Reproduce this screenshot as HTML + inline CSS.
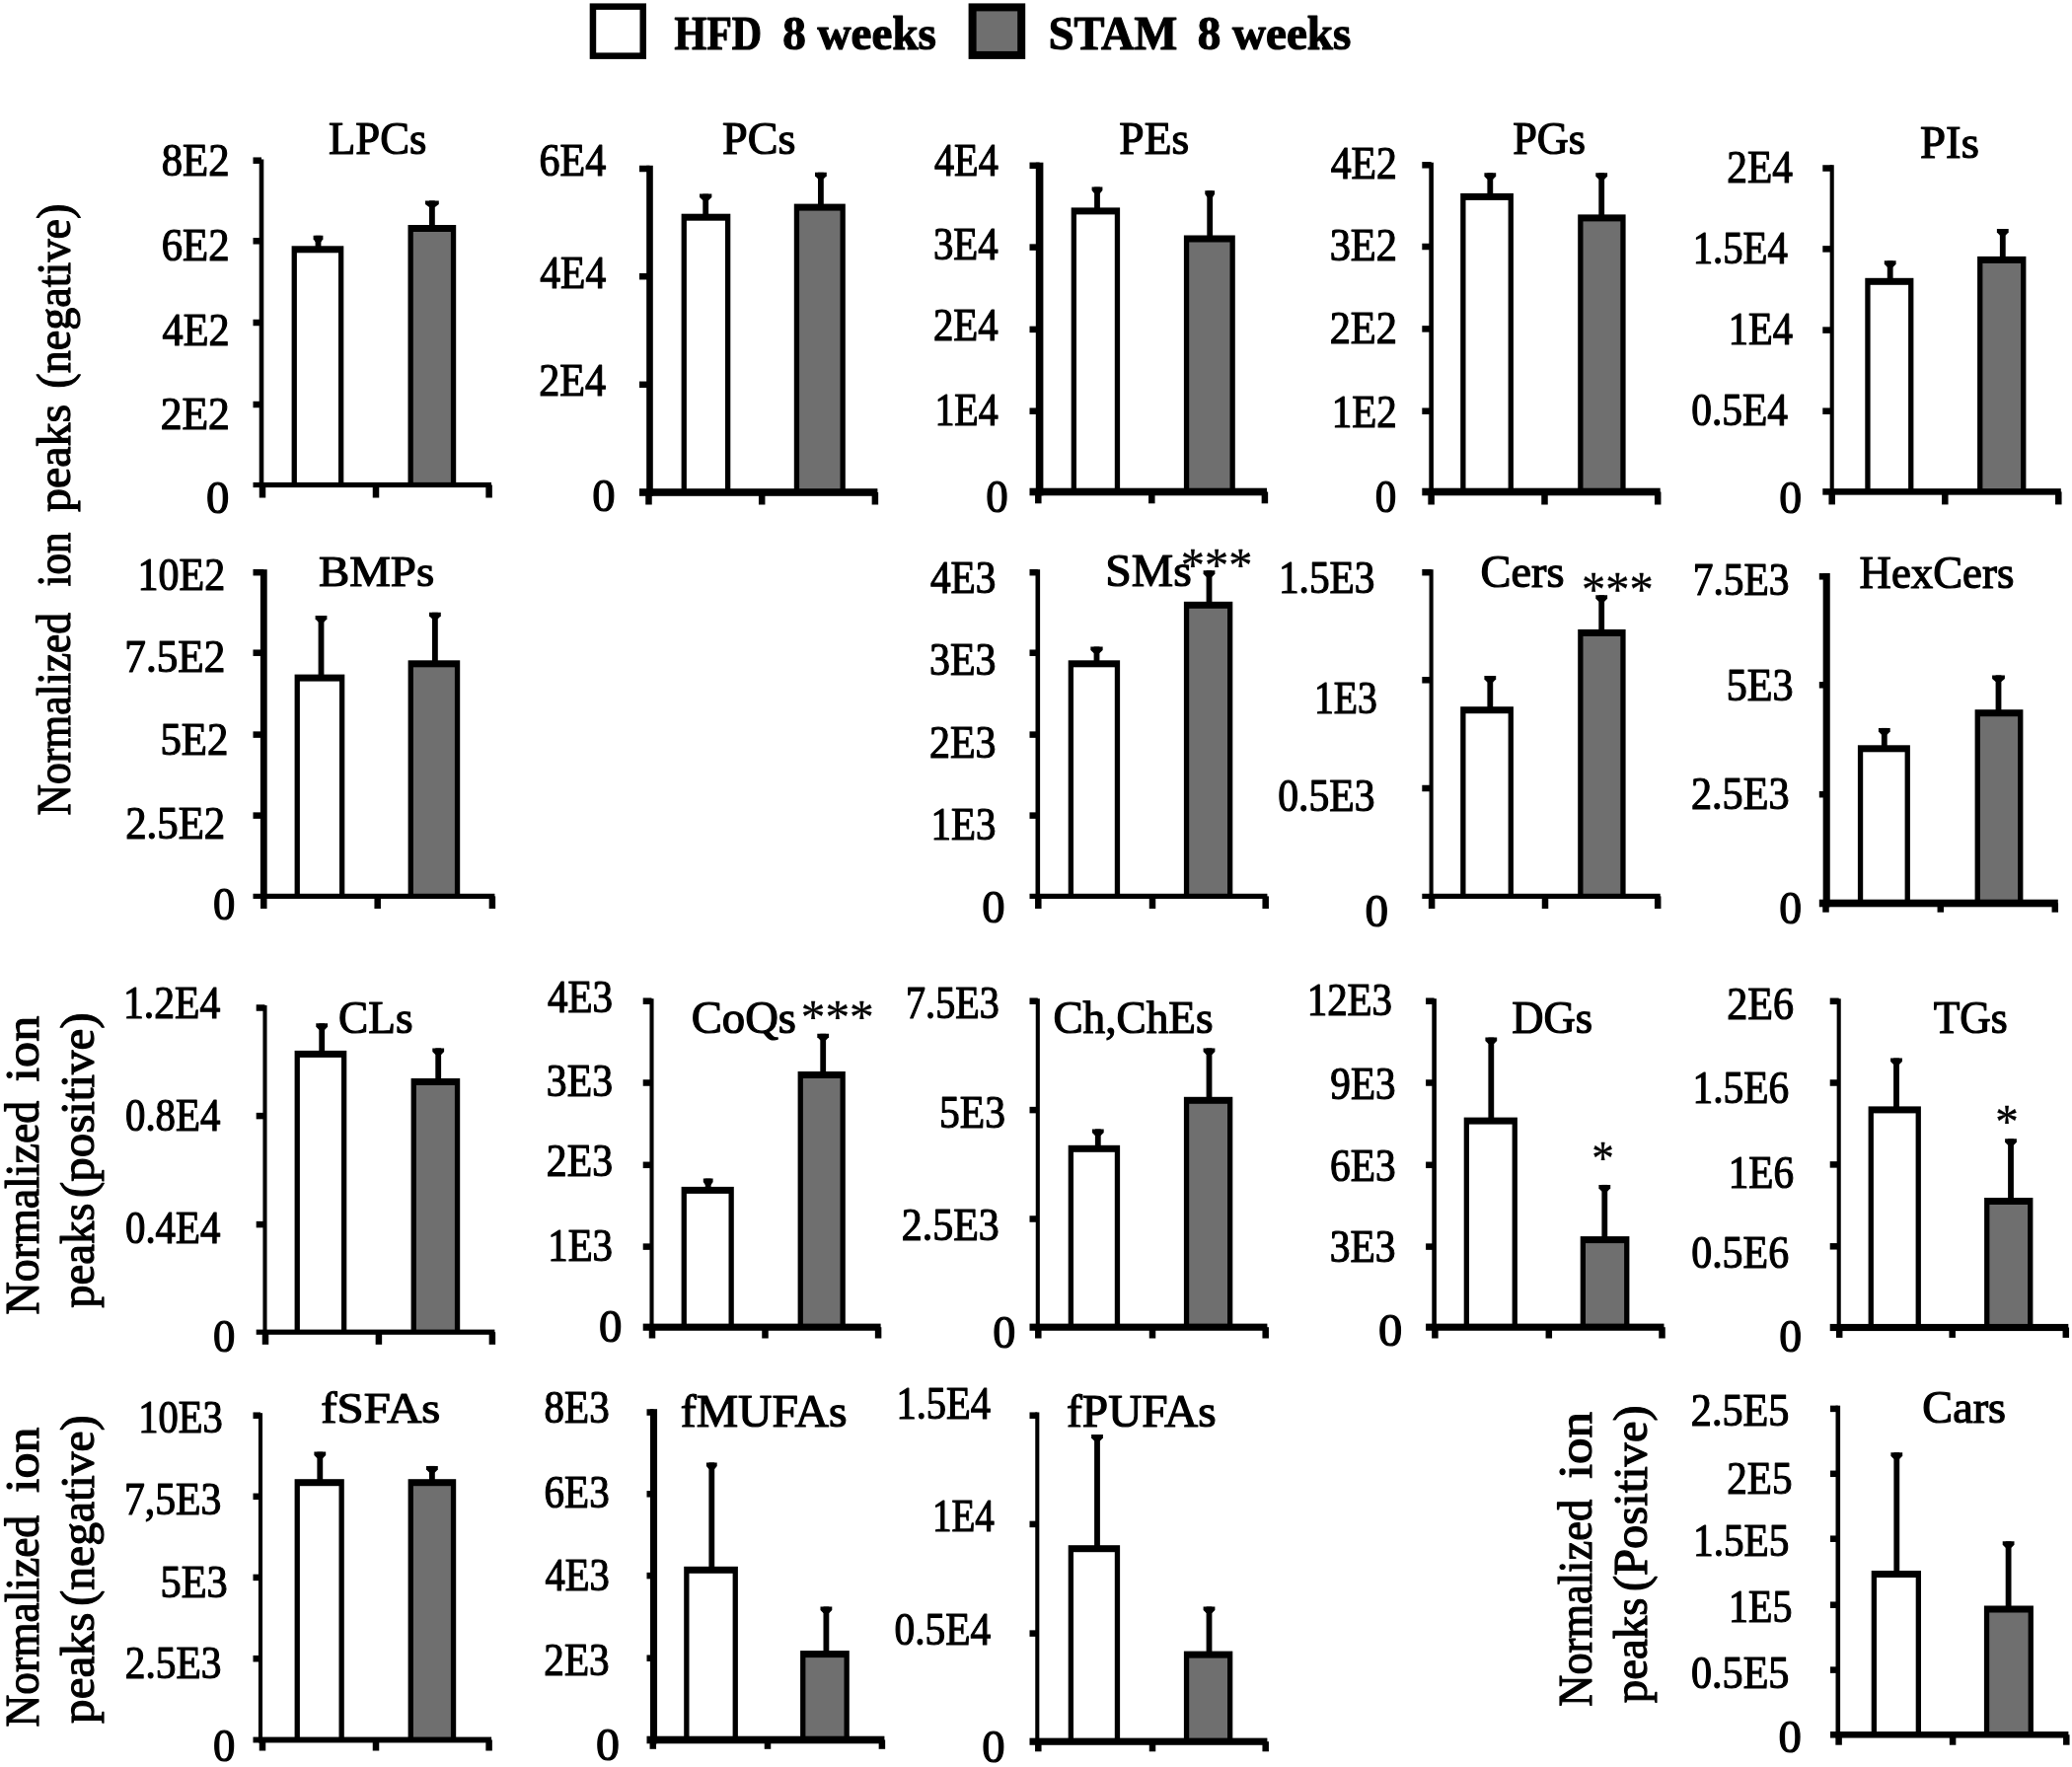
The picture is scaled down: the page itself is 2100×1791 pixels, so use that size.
<!DOCTYPE html>
<html><head><meta charset="utf-8"><title>Lipid classes HFD vs STAM 8 weeks</title>
<style>
html,body{margin:0;padding:0;background:#fff}
svg{display:block;filter:blur(0.7px)}
text{font-family:"Liberation Serif",serif;fill:#000;stroke:#000;stroke-width:1.2px;stroke-linejoin:round}
text.st{stroke-width:0.35px}
</style></head><body>
<svg width="2100" height="1791" viewBox="0 0 2100 1791">
<rect width="2100" height="1791" fill="#fff"/>
<rect x="295.60" y="249.30" width="52.70" height="242.20" fill="#000"/>
<rect x="300.90" y="256.30" width="42.10" height="235.20" fill="#fff"/>
<rect x="413.50" y="228.00" width="48.70" height="263.50" fill="#000"/>
<rect x="418.80" y="235.00" width="38.10" height="256.50" fill="#6f6f6f"/>
<rect x="319.60" y="238.80" width="5.80" height="11.50" fill="#000"/>
<path d="M317.60,238.80h9.80v3.5l-2.00,3h-5.80l-2.00,-3z"/>
<rect x="435.00" y="203.40" width="5.80" height="25.60" fill="#000"/>
<path d="M431.00,203.40h13.80v3.5l-4.00,3h-5.80l-4.00,-3z"/>
<rect x="262.70" y="161.50" width="4.60" height="332.60" fill="#000"/>
<rect x="256.50" y="488.90" width="241.50" height="5.20" fill="#000"/>
<rect x="256.50" y="159.45" width="8.50" height="6.50" fill="#000"/>
<rect x="256.50" y="241.05" width="8.50" height="6.50" fill="#000"/>
<rect x="256.50" y="323.75" width="8.50" height="6.50" fill="#000"/>
<rect x="256.50" y="406.75" width="8.50" height="6.50" fill="#000"/>
<rect x="262.75" y="491.50" width="6.50" height="13.00" fill="#000"/>
<rect x="377.75" y="491.50" width="6.50" height="13.00" fill="#000"/>
<rect x="492.35" y="491.50" width="6.50" height="13.00" fill="#000"/>
<text transform="translate(333.06,156.30) scale(0.9415,1.0000)" font-size="47.5">LPCs</text>
<text transform="translate(163.69,178.40) scale(0.9339,1.0000)" font-size="45.8">8E2</text>
<text transform="translate(163.69,264.00) scale(0.9339,1.0000)" font-size="45.8">6E2</text>
<text transform="translate(164.56,349.50) scale(0.9217,1.0000)" font-size="45.8">4E2</text>
<text transform="translate(162.64,435.00) scale(0.9529,1.0000)" font-size="45.8">2E2</text>
<text transform="translate(209.03,520.40) scale(1.0189,1.0000)" font-size="45.8">0</text>
<rect x="690.60" y="216.70" width="49.70" height="282.30" fill="#000"/>
<rect x="695.90" y="223.70" width="39.10" height="275.30" fill="#fff"/>
<rect x="804.80" y="206.60" width="52.00" height="292.40" fill="#000"/>
<rect x="810.10" y="213.60" width="41.40" height="285.40" fill="#6f6f6f"/>
<rect x="712.30" y="196.60" width="5.80" height="21.10" fill="#000"/>
<path d="M709.05,196.60h12.30v3.5l-3.25,3h-5.80l-3.25,-3z"/>
<rect x="829.00" y="174.80" width="5.80" height="32.80" fill="#000"/>
<path d="M826.00,174.80h11.80v3.5l-3.00,3h-5.80l-3.00,-3z"/>
<rect x="655.20" y="167.80" width="6.60" height="335.00" fill="#000"/>
<rect x="648.00" y="495.20" width="241.40" height="7.60" fill="#000"/>
<rect x="648.00" y="167.75" width="10.50" height="6.50" fill="#000"/>
<rect x="648.00" y="276.95" width="10.50" height="6.50" fill="#000"/>
<rect x="648.00" y="386.55" width="10.50" height="6.50" fill="#000"/>
<rect x="654.25" y="499.00" width="6.50" height="12.50" fill="#000"/>
<rect x="768.95" y="499.00" width="6.50" height="12.50" fill="#000"/>
<rect x="883.65" y="499.00" width="6.50" height="12.50" fill="#000"/>
<text transform="translate(732.01,156.30) scale(0.9934,1.0000)" font-size="46.5">PCs</text>
<text transform="translate(546.52,178.00) scale(0.9169,1.0000)" font-size="45.8">6E4</text>
<text transform="translate(547.37,291.90) scale(0.9052,1.0000)" font-size="45.8">4E4</text>
<text transform="translate(546.30,401.30) scale(0.9198,1.0000)" font-size="45.8">2E4</text>
<text transform="translate(600.33,517.70) scale(1.0189,1.0000)" font-size="45.8">0</text>
<rect x="1085.70" y="210.40" width="49.40" height="288.10" fill="#000"/>
<rect x="1091.00" y="217.40" width="38.80" height="281.10" fill="#fff"/>
<rect x="1199.90" y="238.50" width="51.90" height="260.00" fill="#000"/>
<rect x="1205.20" y="245.50" width="41.30" height="253.00" fill="#6f6f6f"/>
<rect x="1109.10" y="189.60" width="5.80" height="21.80" fill="#000"/>
<path d="M1106.60,189.60h10.80v3.5l-2.50,3h-5.80l-2.50,-3z"/>
<rect x="1223.30" y="193.30" width="5.80" height="46.20" fill="#000"/>
<path d="M1221.30,193.30h9.80v3.5l-2.00,3h-5.80l-2.00,-3z"/>
<rect x="1049.80" y="164.70" width="7.60" height="337.60" fill="#000"/>
<rect x="1043.50" y="494.70" width="240.50" height="7.60" fill="#000"/>
<rect x="1043.50" y="164.55" width="10.10" height="6.50" fill="#000"/>
<rect x="1043.50" y="247.35" width="10.10" height="6.50" fill="#000"/>
<rect x="1043.50" y="330.65" width="10.10" height="6.50" fill="#000"/>
<rect x="1043.50" y="413.45" width="10.10" height="6.50" fill="#000"/>
<rect x="1049.05" y="498.50" width="6.50" height="11.80" fill="#000"/>
<rect x="1164.05" y="498.50" width="6.50" height="11.80" fill="#000"/>
<rect x="1278.65" y="498.50" width="6.50" height="11.80" fill="#000"/>
<text transform="translate(1134.33,156.30) scale(0.9786,1.0000)" font-size="46.5">PEs</text>
<text transform="translate(947.00,178.00) scale(0.8775,1.0000)" font-size="45.8">4E4</text>
<text transform="translate(945.96,263.30) scale(0.8917,1.0000)" font-size="45.8">3E4</text>
<text transform="translate(945.96,345.40) scale(0.8917,1.0000)" font-size="45.8">2E4</text>
<text transform="translate(947.41,430.70) scale(0.8719,1.0000)" font-size="45.8">1E4</text>
<text transform="translate(999.20,519.30) scale(0.9825,1.0000)" font-size="45.8">0</text>
<rect x="1480.20" y="195.90" width="53.70" height="302.60" fill="#000"/>
<rect x="1485.50" y="202.90" width="43.10" height="295.60" fill="#fff"/>
<rect x="1599.20" y="217.40" width="48.40" height="281.10" fill="#000"/>
<rect x="1604.50" y="224.40" width="37.80" height="274.10" fill="#6f6f6f"/>
<rect x="1507.40" y="175.30" width="5.80" height="21.60" fill="#000"/>
<path d="M1504.40,175.30h11.80v3.5l-3.00,3h-5.80l-3.00,-3z"/>
<rect x="1620.30" y="175.30" width="5.80" height="43.10" fill="#000"/>
<path d="M1617.30,175.30h11.80v3.5l-3.00,3h-5.80l-3.00,-3z"/>
<rect x="1448.30" y="164.70" width="4.60" height="337.60" fill="#000"/>
<rect x="1441.30" y="494.70" width="241.40" height="7.60" fill="#000"/>
<rect x="1441.30" y="164.05" width="9.30" height="6.50" fill="#000"/>
<rect x="1441.30" y="246.75" width="9.30" height="6.50" fill="#000"/>
<rect x="1441.30" y="330.15" width="9.30" height="6.50" fill="#000"/>
<rect x="1441.30" y="413.45" width="9.30" height="6.50" fill="#000"/>
<rect x="1447.35" y="498.50" width="6.50" height="13.00" fill="#000"/>
<rect x="1562.25" y="498.50" width="6.50" height="13.00" fill="#000"/>
<rect x="1676.95" y="498.50" width="6.50" height="13.00" fill="#000"/>
<text transform="translate(1533.17,156.30) scale(0.9527,1.0000)" font-size="46.5">PGs</text>
<text transform="translate(1348.77,181.00) scale(0.9103,1.0000)" font-size="45.8">4E2</text>
<text transform="translate(1347.69,263.80) scale(0.9254,1.0000)" font-size="45.8">3E2</text>
<text transform="translate(1347.69,347.90) scale(0.9254,1.0000)" font-size="45.8">2E2</text>
<text transform="translate(1349.81,433.20) scale(0.8956,1.0000)" font-size="45.8">1E2</text>
<text transform="translate(1393.78,519.30) scale(0.9409,1.0000)" font-size="45.8">0</text>
<rect x="1890.30" y="281.80" width="49.10" height="216.60" fill="#000"/>
<rect x="1895.60" y="288.80" width="38.50" height="209.60" fill="#fff"/>
<rect x="2004.10" y="259.90" width="49.30" height="238.50" fill="#000"/>
<rect x="2009.40" y="266.90" width="38.70" height="231.50" fill="#6f6f6f"/>
<rect x="1912.80" y="264.30" width="5.80" height="18.50" fill="#000"/>
<path d="M1909.80,264.30h11.80v3.5l-3.00,3h-5.80l-3.00,-3z"/>
<rect x="2026.90" y="232.00" width="5.80" height="28.90" fill="#000"/>
<path d="M2023.90,232.00h11.80v3.5l-3.00,3h-5.80l-3.00,-3z"/>
<rect x="1854.65" y="167.20" width="4.10" height="334.45" fill="#000"/>
<rect x="1847.30" y="495.15" width="241.50" height="6.50" fill="#000"/>
<rect x="1847.30" y="167.25" width="9.40" height="6.50" fill="#000"/>
<rect x="1847.30" y="249.15" width="9.40" height="6.50" fill="#000"/>
<rect x="1847.30" y="331.35" width="9.40" height="6.50" fill="#000"/>
<rect x="1847.30" y="413.45" width="9.40" height="6.50" fill="#000"/>
<rect x="1853.45" y="498.40" width="6.50" height="13.00" fill="#000"/>
<rect x="1968.05" y="498.40" width="6.50" height="13.00" fill="#000"/>
<rect x="2083.05" y="498.40" width="6.50" height="13.00" fill="#000"/>
<text transform="translate(1946.10,160.40) scale(1.0054,1.0000)" font-size="46.5">PIs</text>
<text transform="translate(1750.34,185.40) scale(0.9029,1.0000)" font-size="45.8">2E4</text>
<text transform="translate(1715.63,267.00) scale(0.8908,1.0000)" font-size="45.8">1.5E4</text>
<text transform="translate(1751.76,349.20) scale(0.8835,1.0000)" font-size="45.8">1E4</text>
<text transform="translate(1714.24,430.60) scale(0.9037,1.0000)" font-size="45.8">0.5E4</text>
<text transform="translate(1803.17,519.50) scale(0.9981,1.0000)" font-size="45.8">0</text>
<rect x="298.60" y="683.60" width="50.70" height="224.80" fill="#000"/>
<rect x="303.90" y="690.60" width="40.10" height="217.80" fill="#fff"/>
<rect x="413.60" y="669.30" width="52.60" height="239.10" fill="#000"/>
<rect x="418.90" y="676.30" width="42.00" height="232.10" fill="#6f6f6f"/>
<rect x="322.60" y="624.10" width="5.80" height="60.50" fill="#000"/>
<path d="M319.60,624.10h11.80v3.5l-3.00,3h-5.80l-3.00,-3z"/>
<rect x="438.00" y="620.80" width="5.80" height="49.50" fill="#000"/>
<path d="M435.00,620.80h11.80v3.5l-3.00,3h-5.80l-3.00,-3z"/>
<rect x="263.90" y="577.20" width="6.80" height="333.80" fill="#000"/>
<rect x="256.50" y="905.80" width="244.90" height="5.20" fill="#000"/>
<rect x="256.50" y="576.95" width="10.80" height="6.50" fill="#000"/>
<rect x="256.50" y="658.45" width="10.80" height="6.50" fill="#000"/>
<rect x="256.50" y="741.35" width="10.80" height="6.50" fill="#000"/>
<rect x="256.50" y="823.35" width="10.80" height="6.50" fill="#000"/>
<rect x="264.05" y="908.40" width="6.50" height="12.60" fill="#000"/>
<rect x="379.45" y="908.40" width="6.50" height="12.60" fill="#000"/>
<rect x="495.65" y="908.40" width="6.50" height="12.60" fill="#000"/>
<text transform="translate(322.89,593.80) scale(1.0516,1.0000)" font-size="44.6">BMPs</text>
<text transform="translate(139.53,598.00) scale(0.9177,1.0000)" font-size="45.8">10E2</text>
<text transform="translate(126.29,681.30) scale(0.9435,1.0000)" font-size="45.8">7.5E2</text>
<text transform="translate(162.43,764.60) scale(0.9347,1.0000)" font-size="45.8">5E2</text>
<text transform="translate(127.17,849.90) scale(0.9352,1.0000)" font-size="45.8">2.5E2</text>
<text transform="translate(215.91,931.70) scale(0.9773,1.0000)" font-size="45.8">0</text>
<rect x="1082.70" y="669.30" width="52.40" height="239.10" fill="#000"/>
<rect x="1088.00" y="676.30" width="41.80" height="232.10" fill="#fff"/>
<rect x="1199.90" y="609.80" width="49.40" height="298.60" fill="#000"/>
<rect x="1205.20" y="616.80" width="38.80" height="291.60" fill="#6f6f6f"/>
<rect x="1108.60" y="655.50" width="5.80" height="14.80" fill="#000"/>
<path d="M1105.35,655.50h12.30v3.5l-3.25,3h-5.80l-3.25,-3z"/>
<rect x="1222.60" y="578.20" width="5.80" height="32.60" fill="#000"/>
<path d="M1219.60,578.20h11.80v3.5l-3.00,3h-5.80l-3.00,-3z"/>
<rect x="1049.50" y="577.20" width="4.60" height="333.80" fill="#000"/>
<rect x="1043.50" y="905.80" width="240.90" height="5.20" fill="#000"/>
<rect x="1043.50" y="576.95" width="8.30" height="6.50" fill="#000"/>
<rect x="1043.50" y="658.45" width="8.30" height="6.50" fill="#000"/>
<rect x="1043.50" y="741.35" width="8.30" height="6.50" fill="#000"/>
<rect x="1043.50" y="823.35" width="8.30" height="6.50" fill="#000"/>
<rect x="1049.05" y="908.40" width="6.50" height="12.60" fill="#000"/>
<rect x="1164.75" y="908.40" width="6.50" height="12.60" fill="#000"/>
<rect x="1279.45" y="908.40" width="6.50" height="12.60" fill="#000"/>
<text transform="translate(1120.30,593.80) scale(1.0251,1.0000)" font-size="46.5">SMs</text>
<text transform="translate(942.97,601.00) scale(0.9015,1.0000)" font-size="45.8">4E3</text>
<text transform="translate(941.91,683.80) scale(0.9163,1.0000)" font-size="45.8">3E3</text>
<text transform="translate(941.91,767.80) scale(0.9163,1.0000)" font-size="45.8">2E3</text>
<text transform="translate(943.52,850.70) scale(0.8939,1.0000)" font-size="45.8">1E3</text>
<text transform="translate(995.33,935.20) scale(1.0189,1.0000)" font-size="45.8">0</text>
<text transform="translate(1196.78,588.68) scale(1.0047,1.0000)" font-size="48.2" class="st">***</text>
<rect x="1480.20" y="716.20" width="53.70" height="192.20" fill="#000"/>
<rect x="1485.50" y="723.20" width="43.10" height="185.20" fill="#fff"/>
<rect x="1599.20" y="637.90" width="48.40" height="270.50" fill="#000"/>
<rect x="1604.50" y="644.90" width="37.80" height="263.50" fill="#6f6f6f"/>
<rect x="1507.40" y="685.10" width="5.80" height="32.10" fill="#000"/>
<path d="M1504.40,685.10h11.80v3.5l-3.00,3h-5.80l-3.00,-3z"/>
<rect x="1620.30" y="603.30" width="5.80" height="35.60" fill="#000"/>
<path d="M1617.30,603.30h11.80v3.5l-3.00,3h-5.80l-3.00,-3z"/>
<rect x="1448.55" y="577.20" width="4.10" height="333.80" fill="#000"/>
<rect x="1441.30" y="905.80" width="241.40" height="5.20" fill="#000"/>
<rect x="1441.30" y="576.95" width="9.30" height="6.50" fill="#000"/>
<rect x="1441.30" y="686.05" width="9.30" height="6.50" fill="#000"/>
<rect x="1441.30" y="795.75" width="9.30" height="6.50" fill="#000"/>
<rect x="1447.85" y="908.40" width="6.50" height="12.60" fill="#000"/>
<rect x="1562.75" y="908.40" width="6.50" height="12.60" fill="#000"/>
<rect x="1676.95" y="908.40" width="6.50" height="12.60" fill="#000"/>
<text transform="translate(1500.55,595.20) scale(0.9971,1.0000)" font-size="46.5">Cers</text>
<text transform="translate(1295.89,601.00) scale(0.9027,1.0000)" font-size="45.8">1.5E3</text>
<text transform="translate(1331.92,723.40) scale(0.8675,1.0000)" font-size="45.8">1E3</text>
<text transform="translate(1295.24,821.80) scale(0.9088,1.0000)" font-size="45.8">0.5E3</text>
<text transform="translate(1383.61,939.20) scale(1.0293,1.0000)" font-size="45.8">0</text>
<text transform="translate(1603.08,613.94) scale(0.9404,1.0000)" font-size="51.5" class="st">***</text>
<rect x="1882.90" y="755.30" width="53.00" height="160.20" fill="#000"/>
<rect x="1888.20" y="762.30" width="42.40" height="153.20" fill="#fff"/>
<rect x="2001.60" y="719.20" width="48.80" height="196.30" fill="#000"/>
<rect x="2006.90" y="726.20" width="38.20" height="189.30" fill="#6f6f6f"/>
<rect x="1906.90" y="737.90" width="5.80" height="18.40" fill="#000"/>
<path d="M1903.90,737.90h11.80v3.5l-3.00,3h-5.80l-3.00,-3z"/>
<rect x="2022.60" y="684.40" width="5.80" height="35.80" fill="#000"/>
<path d="M2019.10,684.40h12.80v3.5l-3.50,3h-5.80l-3.50,-3z"/>
<rect x="1847.65" y="581.00" width="7.10" height="338.30" fill="#000"/>
<rect x="1843.80" y="911.70" width="242.00" height="7.60" fill="#000"/>
<rect x="1843.80" y="581.05" width="7.40" height="6.50" fill="#000"/>
<rect x="1843.80" y="691.05" width="7.40" height="6.50" fill="#000"/>
<rect x="1843.80" y="801.95" width="7.40" height="6.50" fill="#000"/>
<rect x="1847.25" y="915.50" width="6.50" height="9.20" fill="#000"/>
<rect x="1963.55" y="915.50" width="6.50" height="9.20" fill="#000"/>
<rect x="2079.55" y="915.50" width="6.50" height="9.20" fill="#000"/>
<text transform="translate(1884.56,595.80) scale(0.9641,1.0000)" font-size="46.5">HexCers</text>
<text transform="translate(1715.71,602.90) scale(0.9043,1.0000)" font-size="45.8">7.5E3</text>
<text transform="translate(1749.67,709.50) scale(0.9196,1.0000)" font-size="45.8">5E3</text>
<text transform="translate(1714.00,819.50) scale(0.9204,1.0000)" font-size="45.8">2.5E3</text>
<text transform="translate(1803.17,936.10) scale(0.9981,1.0000)" font-size="45.8">0</text>
<rect x="298.60" y="1064.90" width="52.70" height="285.30" fill="#000"/>
<rect x="303.90" y="1071.90" width="42.10" height="278.30" fill="#fff"/>
<rect x="416.60" y="1093.00" width="49.60" height="257.20" fill="#000"/>
<rect x="421.90" y="1100.00" width="39.00" height="250.20" fill="#6f6f6f"/>
<rect x="323.30" y="1037.30" width="5.80" height="28.60" fill="#000"/>
<path d="M320.30,1037.30h11.80v3.5l-3.00,3h-5.80l-3.00,-3z"/>
<rect x="441.30" y="1062.40" width="5.80" height="31.60" fill="#000"/>
<path d="M438.30,1062.40h11.80v3.5l-3.00,3h-5.80l-3.00,-3z"/>
<rect x="266.45" y="1019.00" width="4.10" height="333.80" fill="#000"/>
<rect x="259.70" y="1347.60" width="241.70" height="5.20" fill="#000"/>
<rect x="259.70" y="1018.25" width="8.80" height="6.50" fill="#000"/>
<rect x="259.70" y="1127.85" width="8.80" height="6.50" fill="#000"/>
<rect x="259.70" y="1237.85" width="8.80" height="6.50" fill="#000"/>
<rect x="265.75" y="1350.20" width="6.50" height="12.60" fill="#000"/>
<rect x="380.65" y="1350.20" width="6.50" height="12.60" fill="#000"/>
<rect x="495.65" y="1350.20" width="6.50" height="12.60" fill="#000"/>
<text transform="translate(343.09,1047.20) scale(0.9748,1.0000)" font-size="46.5">CLs</text>
<text transform="translate(125.06,1032.20) scale(0.9091,1.0000)" font-size="45.8">1.2E4</text>
<text transform="translate(126.97,1146.40) scale(0.8914,1.0000)" font-size="45.8">0.8E4</text>
<text transform="translate(126.97,1259.80) scale(0.8914,1.0000)" font-size="45.8">0.4E4</text>
<text transform="translate(215.91,1370.20) scale(0.9773,1.0000)" font-size="45.8">0</text>
<rect x="690.60" y="1202.90" width="53.20" height="142.30" fill="#000"/>
<rect x="695.90" y="1209.90" width="42.60" height="135.30" fill="#fff"/>
<rect x="808.60" y="1086.00" width="48.20" height="259.20" fill="#000"/>
<rect x="813.90" y="1093.00" width="37.60" height="252.20" fill="#6f6f6f"/>
<rect x="714.80" y="1194.60" width="5.80" height="9.30" fill="#000"/>
<path d="M712.80,1194.60h9.80v3.5l-2.00,3h-5.80l-2.00,-3z"/>
<rect x="831.30" y="1047.80" width="5.80" height="39.20" fill="#000"/>
<path d="M828.30,1047.80h11.80v3.5l-3.00,3h-5.80l-3.00,-3z"/>
<rect x="658.45" y="1012.20" width="4.10" height="336.58" fill="#000"/>
<rect x="651.70" y="1341.62" width="240.90" height="7.15" fill="#000"/>
<rect x="651.70" y="1011.45" width="8.80" height="6.50" fill="#000"/>
<rect x="651.70" y="1094.25" width="8.80" height="6.50" fill="#000"/>
<rect x="651.70" y="1177.55" width="8.80" height="6.50" fill="#000"/>
<rect x="651.70" y="1260.35" width="8.80" height="6.50" fill="#000"/>
<rect x="657.75" y="1345.20" width="6.50" height="11.30" fill="#000"/>
<rect x="772.25" y="1345.20" width="6.50" height="11.30" fill="#000"/>
<rect x="886.85" y="1345.20" width="6.50" height="11.30" fill="#000"/>
<text transform="translate(700.63,1047.20) scale(0.9876,1.0000)" font-size="47.3">CoQs</text>
<text transform="translate(554.88,1026.40) scale(0.8959,1.0000)" font-size="45.8">4E3</text>
<text transform="translate(553.82,1111.30) scale(0.9106,1.0000)" font-size="45.8">3E3</text>
<text transform="translate(553.82,1191.60) scale(0.9106,1.0000)" font-size="45.8">2E3</text>
<text transform="translate(555.23,1278.10) scale(0.8910,1.0000)" font-size="45.8">1E3</text>
<text transform="translate(607.02,1360.20) scale(1.0241,1.0000)" font-size="45.8">0</text>
<text transform="translate(811.73,1047.28) scale(1.0240,1.0000)" font-size="48.2" class="st">***</text>
<rect x="1082.70" y="1160.80" width="52.40" height="184.40" fill="#000"/>
<rect x="1088.00" y="1167.80" width="41.80" height="177.40" fill="#fff"/>
<rect x="1199.90" y="1111.80" width="49.40" height="233.40" fill="#000"/>
<rect x="1205.20" y="1118.80" width="38.80" height="226.40" fill="#6f6f6f"/>
<rect x="1109.90" y="1144.40" width="5.80" height="17.40" fill="#000"/>
<path d="M1106.90,1144.40h11.80v3.5l-3.00,3h-5.80l-3.00,-3z"/>
<rect x="1222.60" y="1062.40" width="5.80" height="50.40" fill="#000"/>
<path d="M1219.60,1062.40h11.80v3.5l-3.00,3h-5.80l-3.00,-3z"/>
<rect x="1049.75" y="1012.20" width="4.10" height="336.58" fill="#000"/>
<rect x="1043.50" y="1341.62" width="240.90" height="7.15" fill="#000"/>
<rect x="1043.50" y="1011.45" width="8.30" height="6.50" fill="#000"/>
<rect x="1043.50" y="1121.85" width="8.30" height="6.50" fill="#000"/>
<rect x="1043.50" y="1232.25" width="8.30" height="6.50" fill="#000"/>
<rect x="1049.05" y="1345.20" width="6.50" height="11.30" fill="#000"/>
<rect x="1164.75" y="1345.20" width="6.50" height="11.30" fill="#000"/>
<rect x="1279.45" y="1345.20" width="6.50" height="11.30" fill="#000"/>
<text transform="translate(1067.39,1047.20) scale(0.9736,1.0000)" font-size="46.5">Ch,ChEs</text>
<text transform="translate(918.09,1032.20) scale(0.8753,1.0000)" font-size="45.8">7.5E3</text>
<text transform="translate(952.11,1142.60) scale(0.9066,1.0000)" font-size="45.8">5E3</text>
<text transform="translate(913.81,1256.80) scale(0.9156,1.0000)" font-size="45.8">2.5E3</text>
<text transform="translate(1006.15,1366.00) scale(1.0085,1.0000)" font-size="45.8">0</text>
<rect x="1483.70" y="1132.60" width="54.20" height="212.60" fill="#000"/>
<rect x="1489.00" y="1139.60" width="43.60" height="205.60" fill="#fff"/>
<rect x="1601.70" y="1253.10" width="49.70" height="92.10" fill="#000"/>
<rect x="1607.00" y="1260.10" width="39.10" height="85.10" fill="#6f6f6f"/>
<rect x="1508.40" y="1051.60" width="5.80" height="82.00" fill="#000"/>
<path d="M1505.40,1051.60h11.80v3.5l-3.00,3h-5.80l-3.00,-3z"/>
<rect x="1623.40" y="1200.90" width="5.80" height="53.20" fill="#000"/>
<path d="M1620.40,1200.90h11.80v3.5l-3.00,3h-5.80l-3.00,-3z"/>
<rect x="1451.30" y="1012.20" width="4.60" height="336.58" fill="#000"/>
<rect x="1445.10" y="1341.62" width="241.40" height="7.15" fill="#000"/>
<rect x="1445.10" y="1011.45" width="8.50" height="6.50" fill="#000"/>
<rect x="1445.10" y="1094.25" width="8.50" height="6.50" fill="#000"/>
<rect x="1445.10" y="1177.55" width="8.50" height="6.50" fill="#000"/>
<rect x="1445.10" y="1260.35" width="8.50" height="6.50" fill="#000"/>
<rect x="1451.15" y="1345.20" width="6.50" height="11.30" fill="#000"/>
<rect x="1566.55" y="1345.20" width="6.50" height="11.30" fill="#000"/>
<rect x="1681.25" y="1345.20" width="6.50" height="11.30" fill="#000"/>
<text transform="translate(1532.16,1047.20) scale(0.9611,1.0000)" font-size="46.5">DGs</text>
<text transform="translate(1324.72,1029.00) scale(0.8932,1.0000)" font-size="45.8">12E3</text>
<text transform="translate(1348.37,1113.80) scale(0.8975,1.0000)" font-size="45.8">9E3</text>
<text transform="translate(1347.95,1196.60) scale(0.9033,1.0000)" font-size="45.8">6E3</text>
<text transform="translate(1347.73,1278.90) scale(0.9063,1.0000)" font-size="45.8">3E3</text>
<text transform="translate(1397.06,1363.50) scale(1.0605,1.0000)" font-size="45.8">0</text>
<text transform="translate(1613.34,1189.78) scale(0.9388,1.0000)" font-size="48.2" class="st">*</text>
<rect x="1893.60" y="1121.40" width="53.30" height="224.10" fill="#000"/>
<rect x="1898.90" y="1128.40" width="42.70" height="217.10" fill="#fff"/>
<rect x="2011.10" y="1214.00" width="49.30" height="131.50" fill="#000"/>
<rect x="2016.40" y="1221.00" width="38.70" height="124.50" fill="#6f6f6f"/>
<rect x="1919.10" y="1072.50" width="5.80" height="49.90" fill="#000"/>
<path d="M1916.10,1072.50h11.80v3.5l-3.00,3h-5.80l-3.00,-3z"/>
<rect x="2035.10" y="1154.20" width="5.80" height="60.80" fill="#000"/>
<path d="M2032.10,1154.20h11.80v3.5l-3.00,3h-5.80l-3.00,-3z"/>
<rect x="1861.65" y="1012.30" width="4.10" height="336.78" fill="#000"/>
<rect x="1854.70" y="1341.92" width="241.60" height="7.15" fill="#000"/>
<rect x="1854.70" y="1011.55" width="9.00" height="6.50" fill="#000"/>
<rect x="1854.70" y="1094.25" width="9.00" height="6.50" fill="#000"/>
<rect x="1854.70" y="1177.15" width="9.00" height="6.50" fill="#000"/>
<rect x="1854.70" y="1260.05" width="9.00" height="6.50" fill="#000"/>
<rect x="1860.95" y="1345.50" width="6.50" height="10.40" fill="#000"/>
<rect x="1975.45" y="1345.50" width="6.50" height="10.40" fill="#000"/>
<rect x="2090.55" y="1345.50" width="6.50" height="10.40" fill="#000"/>
<text transform="translate(1959.73,1047.30) scale(0.9375,1.0000)" font-size="46.5">TGs</text>
<text transform="translate(1750.31,1033.40) scale(0.9189,1.0000)" font-size="45.8">2E6</text>
<text transform="translate(1715.59,1118.10) scale(0.9016,1.0000)" font-size="45.8">1.5E6</text>
<text transform="translate(1751.70,1203.50) scale(0.8997,1.0000)" font-size="45.8">1E6</text>
<text transform="translate(1714.22,1284.90) scale(0.9144,1.0000)" font-size="45.8">0.5E6</text>
<text transform="translate(1803.17,1369.60) scale(0.9981,1.0000)" font-size="45.8">0</text>
<text transform="translate(2022.25,1153.12) scale(0.9853,1.0000)" font-size="47.7" class="st">*</text>
<rect x="298.60" y="1499.20" width="50.20" height="264.30" fill="#000"/>
<rect x="303.90" y="1506.20" width="39.60" height="257.30" fill="#fff"/>
<rect x="413.60" y="1499.20" width="48.60" height="264.30" fill="#000"/>
<rect x="418.90" y="1506.20" width="38.00" height="257.30" fill="#6f6f6f"/>
<rect x="321.40" y="1471.60" width="5.80" height="28.60" fill="#000"/>
<path d="M318.40,1471.60h11.80v3.5l-3.00,3h-5.80l-3.00,-3z"/>
<rect x="435.00" y="1485.90" width="5.80" height="14.30" fill="#000"/>
<path d="M432.00,1485.90h11.80v3.5l-3.00,3h-5.80l-3.00,-3z"/>
<rect x="261.95" y="1432.20" width="4.10" height="334.22" fill="#000"/>
<rect x="256.50" y="1760.58" width="241.60" height="5.85" fill="#000"/>
<rect x="256.50" y="1431.45" width="7.50" height="6.50" fill="#000"/>
<rect x="256.50" y="1513.55" width="7.50" height="6.50" fill="#000"/>
<rect x="256.50" y="1595.65" width="7.50" height="6.50" fill="#000"/>
<rect x="256.50" y="1677.95" width="7.50" height="6.50" fill="#000"/>
<rect x="262.75" y="1763.50" width="6.50" height="11.00" fill="#000"/>
<rect x="377.75" y="1763.50" width="6.50" height="11.00" fill="#000"/>
<rect x="492.35" y="1763.50" width="6.50" height="11.00" fill="#000"/>
<text transform="translate(325.34,1442.10) scale(1.1209,1.0000)" font-size="43.5">fSFAs</text>
<text transform="translate(140.16,1452.30) scale(0.8844,1.0000)" font-size="45.8">10E3</text>
<text transform="translate(125.89,1535.10) scale(0.9111,1.0000)" font-size="45.8">7,5E3</text>
<text transform="translate(162.46,1619.10) scale(0.9254,1.0000)" font-size="45.8">5E3</text>
<text transform="translate(126.74,1701.40) scale(0.9031,1.0000)" font-size="45.8">2.5E3</text>
<text transform="translate(215.91,1784.70) scale(0.9773,1.0000)" font-size="45.8">0</text>
<rect x="693.20" y="1587.80" width="54.70" height="175.70" fill="#000"/>
<rect x="698.50" y="1594.80" width="44.10" height="168.70" fill="#fff"/>
<rect x="811.10" y="1673.10" width="49.70" height="90.40" fill="#000"/>
<rect x="816.40" y="1680.10" width="39.10" height="83.40" fill="#6f6f6f"/>
<rect x="718.40" y="1482.40" width="5.80" height="106.40" fill="#000"/>
<path d="M715.90,1482.40h10.80v3.5l-2.50,3h-5.80l-2.50,-3z"/>
<rect x="834.50" y="1628.50" width="5.80" height="45.60" fill="#000"/>
<path d="M831.50,1628.50h11.80v3.5l-3.00,3h-5.80l-3.00,-3z"/>
<rect x="658.95" y="1428.20" width="7.10" height="339.10" fill="#000"/>
<rect x="655.50" y="1759.70" width="240.90" height="7.60" fill="#000"/>
<rect x="655.50" y="1428.25" width="7.00" height="6.50" fill="#000"/>
<rect x="655.50" y="1511.05" width="7.00" height="6.50" fill="#000"/>
<rect x="655.50" y="1593.85" width="7.00" height="6.50" fill="#000"/>
<rect x="655.50" y="1677.45" width="7.00" height="6.50" fill="#000"/>
<rect x="658.55" y="1763.50" width="6.50" height="9.30" fill="#000"/>
<rect x="774.75" y="1763.50" width="6.50" height="9.30" fill="#000"/>
<rect x="890.65" y="1763.50" width="6.50" height="9.30" fill="#000"/>
<text transform="translate(689.77,1445.90) scale(1.0211,1.0000)" font-size="46.7">fMUFAs</text>
<text transform="translate(551.56,1441.50) scale(0.8962,1.0000)" font-size="45.8">8E3</text>
<text transform="translate(551.56,1527.50) scale(0.8962,1.0000)" font-size="45.8">6E3</text>
<text transform="translate(552.39,1612.10) scale(0.8846,1.0000)" font-size="45.8">4E3</text>
<text transform="translate(551.35,1698.20) scale(0.8991,1.0000)" font-size="45.8">2E3</text>
<text transform="translate(603.99,1783.50) scale(1.0449,1.0000)" font-size="45.8">0</text>
<rect x="1082.70" y="1566.20" width="52.40" height="199.00" fill="#000"/>
<rect x="1088.00" y="1573.20" width="41.80" height="192.00" fill="#fff"/>
<rect x="1199.90" y="1673.60" width="49.40" height="91.60" fill="#000"/>
<rect x="1205.20" y="1680.60" width="38.80" height="84.60" fill="#6f6f6f"/>
<rect x="1109.10" y="1454.10" width="5.80" height="113.10" fill="#000"/>
<path d="M1106.10,1454.10h11.80v3.5l-3.00,3h-5.80l-3.00,-3z"/>
<rect x="1222.60" y="1628.50" width="5.80" height="46.10" fill="#000"/>
<path d="M1219.60,1628.50h11.80v3.5l-3.00,3h-5.80l-3.00,-3z"/>
<rect x="1049.25" y="1431.50" width="4.10" height="337.28" fill="#000"/>
<rect x="1043.50" y="1761.62" width="240.90" height="7.15" fill="#000"/>
<rect x="1043.50" y="1431.45" width="7.80" height="6.50" fill="#000"/>
<rect x="1043.50" y="1541.65" width="7.80" height="6.50" fill="#000"/>
<rect x="1043.50" y="1652.35" width="7.80" height="6.50" fill="#000"/>
<rect x="1049.05" y="1765.20" width="6.50" height="10.10" fill="#000"/>
<rect x="1164.75" y="1765.20" width="6.50" height="10.10" fill="#000"/>
<rect x="1279.45" y="1765.20" width="6.50" height="10.10" fill="#000"/>
<text transform="translate(1081.08,1445.90) scale(1.0177,1.0000)" font-size="46.5">fPUFAs</text>
<text transform="translate(908.45,1438.00) scale(0.8850,1.0000)" font-size="45.8">1.5E4</text>
<text transform="translate(944.98,1551.90) scale(0.8531,1.0000)" font-size="45.8">1E4</text>
<text transform="translate(906.44,1666.80) scale(0.9037,1.0000)" font-size="45.8">0.5E4</text>
<text transform="translate(995.33,1786.00) scale(1.0189,1.0000)" font-size="45.8">0</text>
<rect x="1896.70" y="1592.00" width="50.30" height="166.30" fill="#000"/>
<rect x="1902.00" y="1599.00" width="39.70" height="159.30" fill="#fff"/>
<rect x="2010.90" y="1627.50" width="50.00" height="130.80" fill="#000"/>
<rect x="2016.20" y="1634.50" width="39.40" height="123.80" fill="#6f6f6f"/>
<rect x="1919.40" y="1472.20" width="5.80" height="120.80" fill="#000"/>
<path d="M1916.40,1472.20h11.80v3.5l-3.00,3h-5.80l-3.00,-3z"/>
<rect x="2032.70" y="1562.30" width="5.80" height="66.20" fill="#000"/>
<path d="M2029.70,1562.30h11.80v3.5l-3.00,3h-5.80l-3.00,-3z"/>
<rect x="1860.50" y="1424.70" width="4.60" height="336.85" fill="#000"/>
<rect x="1855.00" y="1755.05" width="241.40" height="6.50" fill="#000"/>
<rect x="1855.00" y="1424.65" width="7.80" height="6.50" fill="#000"/>
<rect x="1855.00" y="1490.55" width="7.80" height="6.50" fill="#000"/>
<rect x="1855.00" y="1556.45" width="7.80" height="6.50" fill="#000"/>
<rect x="1855.00" y="1623.45" width="7.80" height="6.50" fill="#000"/>
<rect x="1855.00" y="1689.35" width="7.80" height="6.50" fill="#000"/>
<rect x="1860.35" y="1758.30" width="6.50" height="10.40" fill="#000"/>
<rect x="1975.85" y="1758.30" width="6.50" height="10.40" fill="#000"/>
<rect x="2091.05" y="1758.30" width="6.50" height="10.40" fill="#000"/>
<text transform="translate(1948.35,1441.50) scale(1.0165,1.0000)" font-size="45.5">Cars</text>
<text transform="translate(1713.80,1445.00) scale(0.9213,1.0000)" font-size="45.8">2.5E5</text>
<text transform="translate(1750.35,1513.50) scale(0.8963,1.0000)" font-size="45.8">2E5</text>
<text transform="translate(1716.10,1576.60) scale(0.8997,1.0000)" font-size="45.8">1.5E5</text>
<text transform="translate(1752.11,1644.40) scale(0.8719,1.0000)" font-size="45.8">1E5</text>
<text transform="translate(1714.02,1710.80) scale(0.9193,1.0000)" font-size="45.8">0.5E5</text>
<text transform="translate(1802.43,1776.00) scale(1.0189,1.0000)" font-size="45.8">0</text>
<rect x="597.70" y="3.40" width="57.30" height="56.50" fill="#000"/>
<rect x="604.20" y="9.90" width="44.30" height="43.50" fill="#fff"/>
<rect x="981.60" y="3.40" width="57.60" height="56.50" fill="#000"/>
<rect x="989.60" y="11.40" width="41.60" height="40.50" fill="#6f6f6f"/>
<text transform="translate(683.57,49.70) scale(0.8740,1.0000)" font-size="48" font-weight="bold">HFD</text>
<text transform="translate(793.25,49.70) scale(0.9816,1.0000)" font-size="48" font-weight="bold">8 weeks</text>
<text transform="translate(1062.75,49.70) scale(0.9654,1.0000)" font-size="48" font-weight="bold">STAM</text>
<text transform="translate(1213.65,49.70) scale(0.9816,1.0000)" font-size="48" font-weight="bold">8 weeks</text>
<text transform="translate(71.30,826.51) rotate(-90) scale(0.8892,1.0000)" font-size="49">Normalized</text>
<text transform="translate(71.30,594.46) rotate(-90) scale(0.8770,1.0000)" font-size="49">ion</text>
<text transform="translate(71.30,519.02) rotate(-90) scale(0.9783,1.0000)" font-size="49">peaks</text>
<text transform="translate(71.30,393.68) rotate(-90) scale(0.9419,1.0000)" font-size="49">(negative)</text>
<text transform="translate(39.10,1332.48) rotate(-90) scale(0.9376,1.0000)" font-size="49">Normalized</text>
<text transform="translate(39.10,1096.45) rotate(-90) scale(1.0688,1.0000)" font-size="49">ion</text>
<text transform="translate(95.40,1325.70) rotate(-90) scale(0.9509,1.0000)" font-size="49">peaks</text>
<text transform="translate(95.40,1214.10) rotate(-90) scale(0.9994,1.0000)" font-size="49">(positive)</text>
<text transform="translate(39.10,1750.56) rotate(-90) scale(0.9284,1.0000)" font-size="49">Normalized</text>
<text transform="translate(39.10,1512.94) rotate(-90) scale(1.0622,1.0000)" font-size="49">ion</text>
<text transform="translate(95.40,1746.94) rotate(-90) scale(1.0067,1.0000)" font-size="49">peaks</text>
<text transform="translate(95.40,1627.75) rotate(-90) scale(0.9733,1.0000)" font-size="49">(negative)</text>
<text transform="translate(1612.80,1729.73) rotate(-90) scale(0.9079,1.0000)" font-size="49">Normalized</text>
<text transform="translate(1612.80,1498.86) rotate(-90) scale(1.0852,1.0000)" font-size="49">ion</text>
<text transform="translate(1669.40,1726.30) rotate(-90) scale(0.9563,1.0000)" font-size="49">peaks</text>
<text transform="translate(1669.40,1613.08) rotate(-90) scale(0.9903,1.0000)" font-size="49">(Positive)</text>
</svg>
</body></html>
